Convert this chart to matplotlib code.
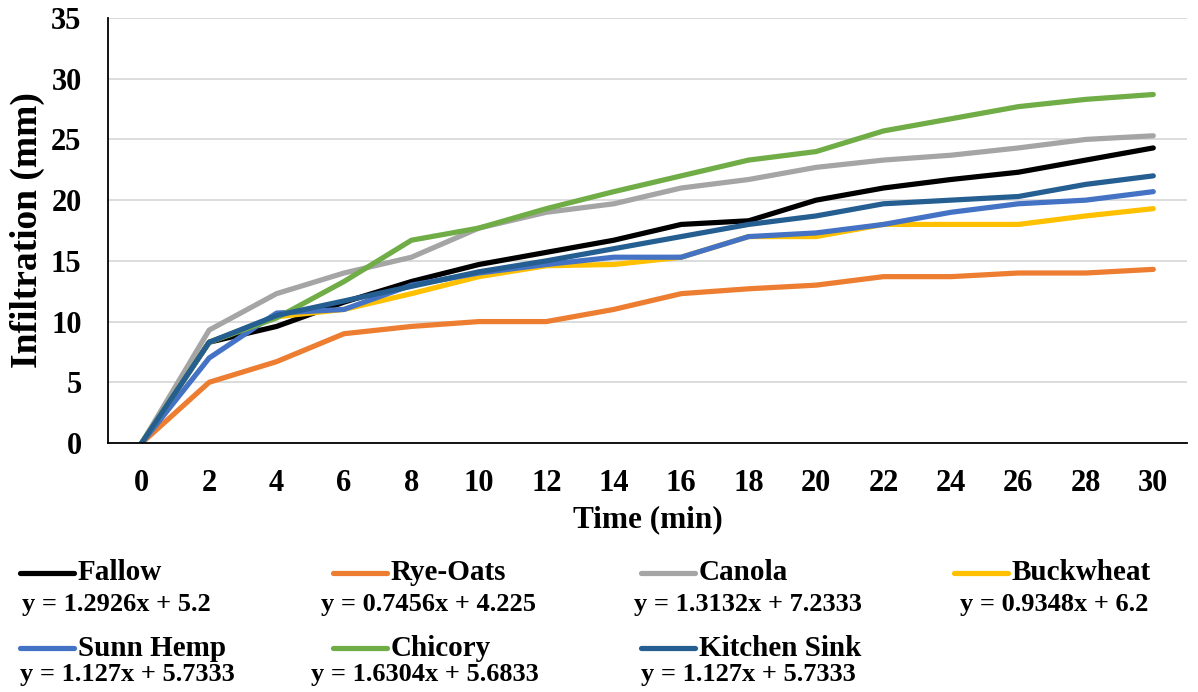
import numpy as np
import matplotlib
matplotlib.use("Agg")
import matplotlib.pyplot as plt
from matplotlib.lines import Line2D

plt.rcParams['font.family'] = ['Liberation Serif', 'DejaVu Serif']
plt.rcParams['font.weight'] = 'bold'

# Datos
time_min = [0, 2, 4, 6, 8, 10, 12, 14, 16, 18, 20, 22, 24, 26, 28, 30]

fallow = [0, 8.3, 9.6, 11.6, 13.3, 14.7, 15.7, 16.7, 18.0, 18.3, 20.0, 21.0, 21.7, 22.3, 23.3, 24.3]
rye_oats = [0, 5.0, 6.7, 9.0, 9.6, 10.0, 10.0, 11.0, 12.3, 12.7, 13.0, 13.7, 13.7, 14.0, 14.0, 14.3]
canola = [0, 9.3, 12.3, 14.0, 15.3, 17.7, 19.0, 19.7, 21.0, 21.7, 22.7, 23.3, 23.7, 24.3, 25.0, 25.3]
buckwheat = [0, 8.3, 10.4, 11.0, 12.3, 13.7, 14.6, 14.7, 15.3, 17.0, 17.0, 18.0, 18.0, 18.0, 18.7, 19.3]
sunn_hemp = [0, 7.0, 10.7, 11.0, 13.0, 14.0, 14.7, 15.3, 15.3, 17.0, 17.3, 18.0, 19.0, 19.7, 20.0, 20.7]
chicory = [0, 8.3, 10.3, 13.3, 16.7, 17.7, 19.3, 20.7, 22.0, 23.3, 24.0, 25.7, 26.7, 27.7, 28.3, 28.7]
kitchen_sink = [0, 8.3, 10.5, 11.7, 12.9, 14.1, 15.0, 16.0, 17.0, 18.0, 18.7, 19.7, 20.0, 20.3, 21.3, 22.0]

names = ['Fallow', 'Rye-Oats', 'Canola', 'Buckwheat', 'Sunn Hemp', 'Chicory', 'Kitchen Sink']
equations = ['y = 1.2926x + 5.2', 'y = 0.7456x + 4.225', 'y = 1.3132x + 7.2333',
             'y = 0.9348x + 6.2', 'y = 1.127x + 5.7333', 'y = 1.6304x + 5.6833',
             'y = 1.127x + 5.7333']
series = [fallow, rye_oats, canola, buckwheat, sunn_hemp, chicory, kitchen_sink]
colors = ['#000000', '#ED7D31', '#A5A5A5', '#FFC000', '#4472C4', '#70AD47', '#255E91']

W, H = 1198, 692
fig = plt.figure(figsize=(W / 100, H / 100), dpi=100)
ax = fig.add_axes([108 / W, 1 - 443 / H, (1187 - 108) / W, (443 - 18) / H])

for ys, c, n in zip(series, colors, names):
    ax.plot(time_min, ys, color=c, lw=3.75, solid_capstyle='round',
            solid_joinstyle='round', label=n)

ax.set_xlim(-1, 31)
ax.set_ylim(0, 35)
ax.set_xticks(time_min)
ax.set_yticks(np.arange(0, 36, 5))
ax.tick_params(length=0, labelsize=22)
ax.tick_params(axis='y', pad=19)
ax.tick_params(axis='x', pad=19)
ax.yaxis.grid(True, color='#D9D9D9', lw=1.3)
ax.set_axisbelow(True)
for s in ['top', 'right']:
    ax.spines[s].set_visible(False)
for s in ['left', 'bottom']:
    ax.spines[s].set_linewidth(1.3)
ax.set_xlabel('Time (min)', fontsize=22.5, fontweight='bold', labelpad=5)
ax.set_ylabel('Infiltration (mm)', fontsize=27, fontweight='bold', labelpad=4)

# Leyenda manual con ecuaciones
handle_x = [20, 333, 641, 954]
eq_x = [[22, 321, 634, 960], [20, 311, 641]]
row_y = [573, 648]
eq_y = [605, 675]
for i, (n, c, eq) in enumerate(zip(names, colors, equations)):
    row, col = divmod(i, 4)
    x0 = handle_x[col]
    y = 1 - row_y[row] / H
    fig.add_artist(Line2D([x0 / W, (x0 + 54) / W], [y, y], color=c, lw=3.75,
                          solid_capstyle='round', transform=fig.transFigure))
    fig.text((x0 + 58) / W, y, n, fontsize=21, fontweight='bold', va='center', ha='left')
    fig.text(eq_x[row][col] / W, 1 - eq_y[row] / H, eq, fontsize=19,
             fontweight='bold', va='center', ha='left')

fig.savefig('out.png', dpi=100)
